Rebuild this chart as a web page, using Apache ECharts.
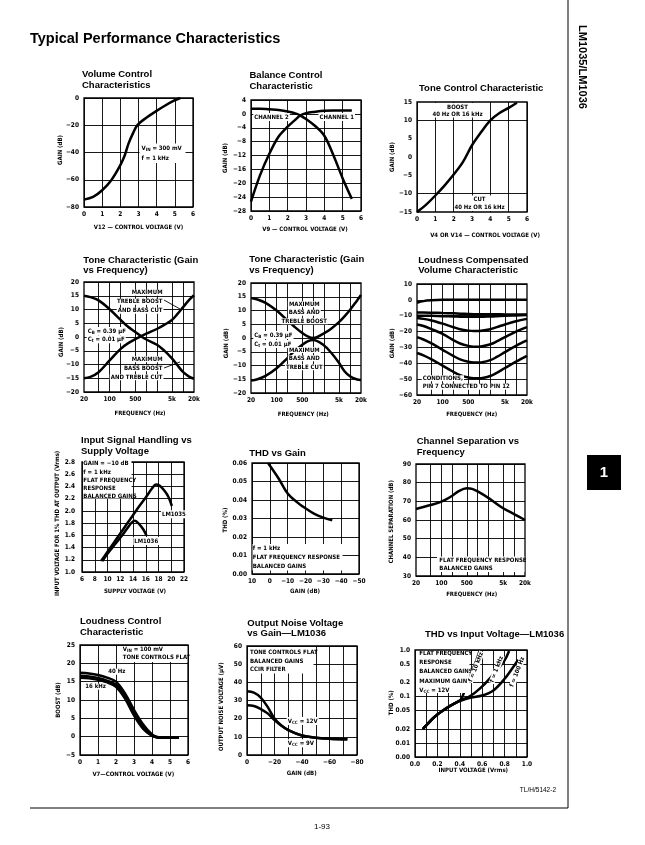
<!DOCTYPE html>
<html><head><meta charset="utf-8">
<script src="https://cdn.jsdelivr.net/npm/echarts@6/dist/echarts.min.js"></script>
<style>html,body{margin:0;padding:0;background:#fff}#c{width:645px;height:845px}</style>
</head><body><div id="c"></div>
<script>
// ---------------- DATA ----------------
// 1 Volume control
const volVolts = [0, 0.5, 1, 1.5, 2, 2.25, 2.45, 2.7, 2.95, 3.45, 3.95, 4.45, 4.95, 5.3];
const volGain  = [-74.6, -72.6, -67.7, -60.3, -49.2, -41.8, -33.5, -25.8, -19.7, -14.3, -9.8, -5.7, -2.0, 0];
// 2 Balance control
const balVolts    = [0, 0.5, 1, 1.5, 2, 2.5, 2.7, 3, 3.5, 4, 4.5, 5, 5.5];
const balChannel1 = [-25.3, -17.6, -11.5, -6.6, -3.7, -1.3, -0.4, 0.2, 0.6, 0.9, 1, 1, 1];
const balChannel2 = [1.5, 1.5, 1.3, 1.1, 0.7, 0, -0.5, -1.5, -3.5, -6.3, -12, -18.6, -24.5];
// 3 Tone control
const toneVolts = [0, 0.5, 1, 1.5, 2, 2.5, 3, 3.5, 4, 4.5, 5, 5.45];
const toneGain  = [-15, -13, -10.5, -7.8, -4.8, -1.4, 3.2, 6.8, 10, 12, 13.4, 14.8];
// 4 Tone vs frequency (treble boost/bass cut, bass boost/treble cut)
const toneFreqA          = [20, 30, 50, 100, 200, 300, 500, 700, 1000, 2000, 3000, 5000, 7000, 10000, 15000, 20000];
const bassBoostTrebleCut = [15, 14.5, 13.3, 10.1, 6.2, 4, 1.8, 0.4, -0.9, -2.9, -4.8, -7.8, -10.2, -12.7, -14.5, -15.2];
const trebleBoostBassCut = [-15, -14.5, -12.8, -8.5, -4.3, -2.5, -0.8, 0.2, 1.2, 3, 4.3, 6.2, 8.3, 10.8, 13.6, 15.2];
// 5 Tone vs frequency (bass and treble boost / cut)
const toneFreqB       = [20, 30, 50, 100, 200, 300, 500, 700, 1000, 2000, 3000, 5000, 7000, 10000, 15000, 20000];
const bassTrebleBoost = [14.5, 14, 12.8, 10, 6.3, 4.2, 1.8, 0.6, 0, 1.8, 3.3, 5.8, 7.8, 10.2, 13.3, 15.6];
const bassTrebleCut   = [-15.5, -15, -13.8, -11, -7.2, -4.8, -2.5, -1.2, -0.7, -2.8, -5.2, -9, -12, -13.9, -15, -15.3];
// 6 Loudness compensated volume
const loudFreq = [20, 30, 50, 100, 200, 300, 500, 700, 1000, 2000, 3000, 5000, 10000, 20000];
const loud0  = [-1.8, -0.8, -0.3, 0, 0, 0, 0, 0, 0, 0, 0, 0, 0, 0];
const loud8  = [-8, -8, -8.1, -8.3, -8.5, -8.7, -8.9, -9, -9, -9.1, -9.1, -9.2, -9.2, -9.2];
const loud10 = [-10, -10, -10.1, -10.3, -10.5, -10.6, -10.7, -10.7, -10.7, -10.5, -10.3, -10, -9.8, -9.6];
const loud20 = [-11.5, -12, -13, -15, -17.3, -18.5, -19.4, -19.7, -19.6, -18.5, -17.2, -15.5, -13.5, -12];
const loud30 = [-15.5, -16.5, -18.5, -21.5, -25.5, -27.5, -29, -29.5, -29.5, -28, -26.2, -23.5, -20, -17.2];
const loud40 = [-23.5, -25, -27.5, -31.5, -35.5, -37.5, -39, -39.5, -39.5, -38, -36, -33, -29, -25.6];
const loud50 = [-33.5, -35, -37.5, -41.5, -45.5, -47.5, -49, -49.5, -49.5, -48, -46, -43, -39, -35.3];
// 7 Input signal handling vs supply voltage
const supplyV1035 = [9, 10, 11, 12, 13, 14, 15, 16, 17, 17.6, 18.2, 19, 19.6, 20.1];
const input1035   = [1.18, 1.33, 1.48, 1.63, 1.78, 1.93, 2.08, 2.22, 2.37, 2.43, 2.41, 2.32, 2.22, 2.08];
const supplyV1036 = [9.2, 10, 11, 12, 13, 13.8, 14.3, 15, 15.6, 16.1];
const input1036   = [1.18, 1.3, 1.43, 1.56, 1.7, 1.81, 1.84, 1.78, 1.7, 1.6];
// 8 THD vs gain
const thdGainDb  = [1, -5, -10, -15, -20, -25, -30, -35];
const thdPercent = [0.06, 0.0515, 0.0435, 0.039, 0.0355, 0.0325, 0.0305, 0.029];
// 9 Channel separation vs frequency
const sepFreq    = [20, 50, 100, 200, 300, 500, 700, 1000, 2000, 5000, 10000, 20000];
const separation = [65.9, 68, 69.8, 73, 75.5, 77, 76.7, 75.3, 71.7, 66.3, 63.2, 60];
// 10 Loudness control characteristic
const loudCtrlV     = [0, 0.5, 1, 1.5, 2, 2.5, 3, 3.5, 4, 4.3, 4.6, 5, 5.5];
const loudCtrl40Hz  = [17.4, 17.2, 16.8, 16.1, 15, 11.8, 7.3, 3.4, 0.6, -0.1, -0.3, -0.3, -0.3];
const loudCtrlMid   = [16.6, 16.4, 16, 15.3, 14.2, 11, 6.5, 2.8, 0.4, -0.2, -0.3, -0.3, -0.3];
const loudCtrl16kHz = [16.1, 15.9, 15.5, 14.8, 13.6, 10.4, 5.8, 2.2, 0.2, -0.2, -0.3, -0.3, -0.3];
// 11 Output noise voltage vs gain
const noiseGainDb = [0, -5, -10, -15, -20, -25, -30, -40, -50, -60, -73];
const noise12V    = [35.1, 34.3, 31.6, 26.5, 20.1, 16.3, 13.7, 10.7, 9.5, 9, 8.7];
const noise9V     = [27.4, 27, 25.3, 22.9, 19.2, 16.1, 13.7, 10.7, 9.5, 9, 8.7];
// 12 THD vs input voltage
const thdInV10k  = [0.07, 0.1, 0.15, 0.2, 0.25, 0.3, 0.35, 0.4, 0.42, 0.45, 0.5, 0.55, 0.58];
const thdIn10k   = [0.02, 0.024, 0.032, 0.041, 0.05, 0.06, 0.07, 0.082, 0.095, 0.15, 0.31, 0.62, 1.0];
const thdInV1k   = [0.07, 0.1, 0.15, 0.2, 0.25, 0.3, 0.35, 0.4, 0.5, 0.6, 0.7, 0.8, 0.84];
const thdIn1k    = [0.02, 0.024, 0.032, 0.041, 0.05, 0.06, 0.07, 0.082, 0.105, 0.165, 0.3, 0.6, 0.95];
const thdInV100  = [0.07, 0.1, 0.15, 0.2, 0.25, 0.3, 0.35, 0.4, 0.5, 0.6, 0.7, 0.8, 0.9, 0.92];
const thdIn100   = [0.02, 0.024, 0.032, 0.041, 0.05, 0.06, 0.07, 0.08, 0.095, 0.105, 0.135, 0.24, 0.52, 0.62];
// tick labels
const FREQ_LABELS = [20, 100, 500, 5000, 20000];
const FREQ_GRID   = [50, 100, 200, 500, 1000, 2000, 5000, 10000];
const THD_IN_TICKS  = [0.005, 0.01, 0.02, 0.05, 0.1, 0.2, 0.5, 1.0];
const THD_IN_LABELS = ['0.00', '0.01', '0.02', '0.05', '0.1', '0.2', '0.5', '1.0'];

// ---------------- BUILD ----------------
const NARROW = "'Liberation Sans Narrow','DejaVu Sans Condensed','Liberation Sans',sans-serif";
const SANS = "'Liberation Sans',Arial,Helvetica,sans-serif";
const LW = 2.5;
const lg = Math.log10;
const grids = [], xAxes = [], yAxes = [], series = [], graphics = [];

function merge(a, b) {
  const out = Object.assign({}, a);
  for (const k in b) {
    const v = b[k];
    if (v && typeof v === 'object' && !Array.isArray(v) && a[k] && typeof a[k] === 'object' && !Array.isArray(a[k])) out[k] = merge(a[k], v);
    else out[k] = v;
  }
  return out;
}
const neg = v => { const r = Math.round(v * 1000) / 1000; return r < 0 ? '\u2212' + Math.abs(r) : String(r); };
const baseAxis = {
  type: 'value', axisLine: { show: false }, axisTick: { show: false },
  splitLine: { show: true, lineStyle: { color: '#000', width: 0.9 } },
  axisLabel: { color: '#000', fontFamily: NARROW, fontWeight: 'bold', fontSize: 6.5, formatter: neg }
};
function panel(box, xOpt, yOpt) {
  const i = grids.length;
  grids.push({ left: box[0], top: box[1], width: box[2] - box[0], height: box[3] - box[1], show: true,
    borderColor: '#000', borderWidth: 1.3, backgroundColor: 'rgba(0,0,0,0)' });
  xAxes.push(merge(merge(baseAxis, { gridIndex: i, axisLabel: { margin: 4 } }), xOpt));
  yAxes.push(merge(merge(baseAxis, { gridIndex: i, axisLabel: { margin: 5 } }), yOpt));
  return i;
}
function line(i, xs, ys, w, tx) {
  const fx = tx || (v => v);
  series.push({ type: 'line', xAxisIndex: i, yAxisIndex: i, symbol: 'none', smooth: 0.35, silent: true, z: 5,
    lineStyle: { color: '#000', width: w || LW }, data: xs.map((x, k) => [fx(x), ys[k]]) });
}
function lineLogY(i, xs, ys, w) {
  series.push({ type: 'line', xAxisIndex: i, yAxisIndex: i, symbol: 'none', smooth: 0.35, silent: true, z: 5,
    lineStyle: { color: '#000', width: w || LW }, data: xs.map((x, k) => [x, lg(ys[k])]) });
}
function T(x, y, text, o) {
  o = o || {};
  const st = { text: text, fill: o.fill || '#000', fontFamily: o.ff || NARROW, fontWeight: o.fw || 'bold',
    fontSize: o.fs || 6, align: o.align || 'left', verticalAlign: o.va || 'middle' };
  if (o.bg) { st.backgroundColor = o.bg; st.padding = o.pad || [1, 2]; }
  if (o.rich) st.rich = o.rich;
  if (o.lh) st.lineHeight = o.lh;
  graphics.push({ type: 'text', x: x, y: y, rotation: o.rot || 0, z: o.z || 60, silent: true, style: st });
}
function R(x1, y1, x2, y2, fill) {
  graphics.push({ type: 'rect', z: 55, silent: true, shape: { x: x1, y: y1, width: x2 - x1, height: y2 - y1 }, style: { fill: fill || '#fff' } });
}
function L(x1, y1, x2, y2, w) {
  graphics.push({ type: 'line', z: 58, silent: true, shape: { x1, y1, x2, y2 }, style: { stroke: '#000', lineWidth: w || 0.9 } });
}
function title(x, y, lines) { lines.forEach((s, k) => T(x, y + k * 10.5, s, { ff: SANS, fs: 9.5 })); }
function yName(x, y, s) { T(x, y, s, { rot: Math.PI / 2, align: 'center', fs: 6 }); }
function xName(x, y, s) { T(x, y, s, { align: 'center', fs: 6 }); }
const SUB = { n: { fontFamily: NARROW, fontWeight: 'bold', fontSize: 6 }, s: { fontFamily: NARROW, fontWeight: 'bold', fontSize: 4.5, padding: [3, 0, 0, 0] } };

function freqFmt(v) { const f = Math.round(Math.pow(10, v)); return f >= 1000 ? (f / 1000) + 'k' : String(f); }
const freqX = { min: lg(20), max: lg(20000), axisLabel: { customValues: FREQ_LABELS.map(lg), formatter: freqFmt }, axisTick: { customValues: FREQ_GRID.map(lg) } };

// Page header
T(30, 39, 'Typical Performance Characteristics', { ff: SANS, fs: 14.5 });

// ---- 1 Volume control
let p = panel([84, 98, 193, 207], { min: 0, max: 6, interval: 1 }, { min: -80, max: 0, interval: 20 });
line(p, volVolts, volGain);
title(82, 74.5, ['Volume Control', 'Characteristics']);
yName(60.5, 150, 'GAIN (dB)');
xName(138.5, 227, 'V12 \u2014 CONTROL VOLTAGE (V)');
R(139.5, 143.5, 185.5, 163);
T(141.5, 148.5, '{n|V}{s|IN}{n| = 300 mV}', { rich: SUB });
T(141.5, 158, 'f = 1 kHz');

// ---- 2 Balance control
p = panel([251, 100, 361, 211], { min: 0, max: 6, interval: 1 }, { min: -28, max: 4, interval: 4 });
line(p, balVolts, balChannel1);
line(p, balVolts, balChannel2);
title(249.5, 75.7, ['Balance Control', 'Characteristic']);
yName(225.5, 158, 'GAIN (dB)');
xName(305, 229.5, 'V9 \u2014 CONTROL VOLTAGE (V)');
T(253.3, 117, 'CHANNEL 2', { bg: '#fff', pad: [1, 1] });
T(318.5, 117, 'CHANNEL 1', { bg: '#fff', pad: [1, 1] });

// ---- 3 Tone control
p = panel([417, 102, 527, 212], { min: 0, max: 6, interval: 1 }, { min: -15, max: 15, interval: 5, axisTick: { customValues: [-10, 10] } });
line(p, toneVolts, toneGain);
title(419, 88.7, ['Tone Control Characteristic']);
yName(392.7, 157, 'GAIN (dB)');
xName(485, 235, 'V4 OR V14 \u2014 CONTROL VOLTAGE (V)');
R(433.5, 103, 481.5, 117.5);
T(457.5, 107, 'BOOST', { align: 'center' });
T(457.5, 114, '40 Hz OR 16 kHz', { align: 'center' });
R(454, 195.5, 504, 211);
T(479.5, 199.5, 'CUT', { align: 'center' });
T(479.5, 207.5, '40 Hz OR 16 kHz', { align: 'center' });

// ---- 4 Tone vs frequency A
p = panel([84, 282, 194, 392], freqX, { min: -20, max: 20, interval: 5 });
line(p, toneFreqA, bassBoostTrebleCut, LW, lg);
line(p, toneFreqA, trebleBoostBassCut, LW, lg);
title(83.3, 260.3, ['Tone Characteristic (Gain', 'vs Frequency)']);
yName(61.5, 342, 'GAIN (dB)');
xName(140, 413.3, 'FREQUENCY (Hz)');
T(163.5, 292.7, 'MAXIMUM', { align: 'right', bg: '#fff', pad: [0, 1] });
T(163.5, 301.7, 'TREBLE BOOST', { align: 'right', bg: '#fff', pad: [0, 1] });
T(163.5, 310.7, 'AND BASS CUT', { align: 'right', bg: '#fff', pad: [0, 1] });
T(86.7, 331, '{n|C}{s|B}{n| = 0.39 \u03bcF}', { rich: SUB, bg: '#fff', pad: [0, 1] });
T(86.7, 339.3, '{n|C}{s|t}{n| = 0.01 \u03bcF}', { rich: SUB, bg: '#fff', pad: [0, 1] });
T(163.5, 359.3, 'MAXIMUM', { align: 'right', bg: '#fff', pad: [0, 1] });
T(163.5, 368.3, 'BASS BOOST', { align: 'right', bg: '#fff', pad: [0, 1] });
T(163.5, 377.3, 'AND TREBLE CUT', { align: 'right', bg: '#fff', pad: [0, 1] });
L(164, 300, 180, 309);
L(164, 368, 180, 362);

// ---- 5 Tone vs frequency B
p = panel([251, 283, 361, 393], freqX, { min: -20, max: 20, interval: 5 });
line(p, toneFreqB, bassTrebleBoost, LW, lg);
line(p, toneFreqB, bassTrebleCut, LW, lg);
title(249.3, 259.7, ['Tone Characteristic (Gain', 'vs Frequency)']);
yName(226.7, 343.3, 'GAIN (dB)');
xName(303.3, 414.3, 'FREQUENCY (Hz)');
T(304.3, 304.3, 'MAXIMUM', { align: 'center', bg: '#fff', pad: [0, 1] });
T(304.3, 312.7, 'BASS AND', { align: 'center', bg: '#fff', pad: [0, 1] });
T(304.3, 321.3, 'TREBLE BOOST', { align: 'center', bg: '#fff', pad: [0, 1] });
T(253.3, 335, '{n|C}{s|B}{n| = 0.39 \u03bcF}', { rich: SUB, bg: '#fff', pad: [0, 1] });
T(253.3, 344, '{n|C}{s|t}{n| = 0.01 \u03bcF}', { rich: SUB, bg: '#fff', pad: [0, 1] });
T(304.3, 350, 'MAXIMUM', { align: 'center', bg: '#fff', pad: [0, 1] });
T(304.3, 358.3, 'BASS AND', { align: 'center', bg: '#fff', pad: [0, 1] });
T(304.3, 367.3, 'TREBLE CUT', { align: 'center', bg: '#fff', pad: [0, 1] });

// ---- 6 Loudness compensated volume
p = panel([417, 284, 527, 395], freqX, { min: -60, max: 10, interval: 10 });
[loud0, loud8, loud10, loud20, loud30, loud40, loud50].forEach(arr => line(p, loudFreq, arr, LW, lg));
title(418.3, 260.3, ['Loudness Compensated', 'Volume Characteristic']);
yName(392.7, 343.3, 'GAIN (dB)');
xName(471.7, 414.3, 'FREQUENCY (Hz)');
T(421.7, 378.3, 'CONDITIONS,', { bg: '#fff', pad: [0, 1] });
T(421.7, 386.7, 'PIN 7 CONNECTED TO PIN 12', { bg: '#fff', pad: [0, 1] });

// ---- 7 Input signal handling
p = panel([82, 462, 184, 572], { min: 6, max: 22, interval: 2 }, { min: 1.0, max: 2.8, interval: 0.2, axisLabel: { formatter: v => v.toFixed(1), margin: 7 } });
line(p, supplyV1035, input1035);
line(p, supplyV1036, input1036);
title(81, 440.7, ['Input Signal Handling vs', 'Supply Voltage']);
yName(57.7, 523.3, 'INPUT VOLTAGE FOR 1% THD AT OUTPUT (Vrms)');
xName(135, 591, 'SUPPLY VOLTAGE (V)');
R(83, 461, 131.5, 498.5);
T(83.3, 463.8, 'GAIN = \u221210 dB');
T(83.3, 472.7, 'f = 1 kHz');
T(83.3, 480.7, 'FLAT FREQUENCY');
T(83.3, 488.3, 'RESPONSE');
T(83.3, 496, 'BALANCED GAINS');
T(161, 514.3, 'LM1035', { bg: '#fff', pad: [1, 1] });
T(133.3, 541, 'LM1036', { bg: '#fff', pad: [1, 1] });

// ---- 8 THD vs gain
p = panel([252, 463, 359, 574], { min: -50, max: 10, interval: 10, inverse: true }, { min: 0, max: 0.06, interval: 0.01, axisLabel: { formatter: v => v.toFixed(2) } });
line(p, thdGainDb, thdPercent);
title(249.3, 453, ['THD vs Gain']);
yName(225, 520, 'THD (%)');
xName(305, 591.7, 'GAIN (dB)');
R(252.5, 544, 342.5, 570.5);
T(252.7, 548.3, 'f = 1 kHz');
T(252.7, 557.7, 'FLAT FREQUENCY RESPONSE');
T(252.7, 566, 'BALANCED GAINS');

// ---- 9 Channel separation
p = panel([416, 464, 525, 576], freqX, { min: 30, max: 90, interval: 10 });
line(p, sepFreq, separation, LW, lg);
title(416.7, 441.5, ['Channel Separation vs', 'Frequency']);
yName(391.7, 521.7, 'CHANNEL SEPARATION (dB)');
xName(471.7, 594.3, 'FREQUENCY (Hz)');
R(437, 556.5, 524.5, 572);
T(439.3, 560.7, 'FLAT FREQUENCY RESPONSE');
T(439.3, 568.3, 'BALANCED GAINS');

// ---- 10 Loudness control
p = panel([80, 645, 188, 755], { min: 0, max: 6, interval: 1 }, { min: -5, max: 25, interval: 5 });
line(p, loudCtrlV, loudCtrl40Hz);
line(p, loudCtrlV, loudCtrlMid);
line(p, loudCtrlV, loudCtrl16kHz);
title(80, 621.5, ['Loudness Control', 'Characteristic']);
yName(58.3, 700, 'BOOST (dB)');
xName(133.3, 774.3, 'V7\u2014CONTROL VOLTAGE (V)');
R(121, 646, 187.3, 662);
T(122.7, 649.3, '{n|V}{s|IN}{n| = 100 mV}', { rich: SUB });
T(122.7, 657.7, 'TONE CONTROLS FLAT');
T(107.3, 671.7, '40 Hz', { bg: '#fff', pad: [0, 1] });
T(84.3, 686.7, '16 kHz', { bg: '#fff', pad: [0, 1] });

// ---- 11 Output noise voltage
p = panel([247, 646, 357, 755], { min: -80, max: 0, interval: 10, inverse: true, axisLabel: { formatter: v => (Math.round(v) % 20 === 0 ? neg(v) : '') } }, { min: 0, max: 60, interval: 10 });
line(p, noiseGainDb, noise12V, LW);
line(p, noiseGainDb, noise9V, LW);
title(247.3, 623, ['Output Noise Voltage', 'vs Gain\u2014LM1036']);
yName(221, 706.7, 'OUTPUT NOISE VOLTAGE (\u03bcV)');
xName(301.7, 773.3, 'GAIN (dB)');
R(248, 647, 313.5, 673.5);
T(250, 652.7, 'TONE CONTROLS FLAT');
T(250, 661, 'BALANCED GAINS');
T(250, 669.3, 'CCIR FILTER');
T(286.7, 721, '{n|V}{s|CC}{n| = 12V}', { rich: SUB, bg: '#fff', pad: [0, 1] });
T(286.7, 743.3, '{n|V}{s|CC}{n| = 9V}', { rich: SUB, bg: '#fff', pad: [0, 1] });

// ---- 12 THD vs input voltage
p = panel([415, 650, 527, 757],
  { min: 0, max: 1, interval: 0.1, axisLabel: { formatter: v => (Math.round(v * 10) % 2 === 0 ? v.toFixed(1) : '') } },
  { min: lg(0.005), max: 0, axisTick: { customValues: THD_IN_TICKS.map(lg) },
    axisLabel: { customValues: THD_IN_TICKS.map(lg), formatter: v => {
      let b = 0; THD_IN_TICKS.forEach((t, k) => { if (Math.abs(lg(t) - v) < Math.abs(lg(THD_IN_TICKS[b]) - v)) b = k; });
      return THD_IN_LABELS[b]; } } });
lineLogY(p, thdInV10k, thdIn10k);
lineLogY(p, thdInV1k, thdIn1k);
lineLogY(p, thdInV100, thdIn100);
title(425, 634.7, ['THD vs Input Voltage\u2014LM1036']);
yName(391.7, 702.7, 'THD (%)');
xName(473.3, 770.7, 'INPUT VOLTAGE (Vrms)');
R(416, 650.8, 469.5, 693);
T(419.3, 653.5, 'FLAT FREQUENCY');
T(419.3, 662.7, 'RESPONSE');
T(419.3, 671.7, 'BALANCED GAINS');
T(419.3, 681, 'MAXIMUM GAIN');
T(419.3, 690, '{n|V}{s|CC}{n| = 12V}', { rich: SUB });
T(476, 667, 'f = 10 kHz', { rot: 1.2, align: 'center', bg: '#fff', pad: [0, 1] });
T(496.7, 669.3, 'f = 1 kHz', { rot: 1.2, align: 'center', bg: '#fff', pad: [0, 1] });
T(517.3, 672, 'f = 100 Hz', { rot: 1.2, align: 'center', bg: '#fff', pad: [0, 1] });

// ---- Page decorations
L(568, 0, 568, 808, 1);
L(30, 808, 568, 808, 1);
T(582, 67, 'LM1035/LM1036', { ff: SANS, fs: 11, rot: -Math.PI / 2, align: 'center' });
R(587, 455, 621, 490, '#000');
T(604, 473, '1', { ff: SANS, fs: 15, fill: '#fff', align: 'center' });
T(556, 790, 'TL/H/5142-2', { ff: SANS, fw: 'normal', fs: 6.5, align: 'right' });
T(322, 827, '1-93', { ff: SANS, fw: 'normal', fs: 8, align: 'center' });

const chart = echarts.init(document.getElementById('c'), null, { renderer: 'canvas' });
chart.setOption({ animation: false, backgroundColor: '#fff', grid: grids, xAxis: xAxes, yAxis: yAxes, series: series, graphic: { elements: graphics } });
</script></body></html>
